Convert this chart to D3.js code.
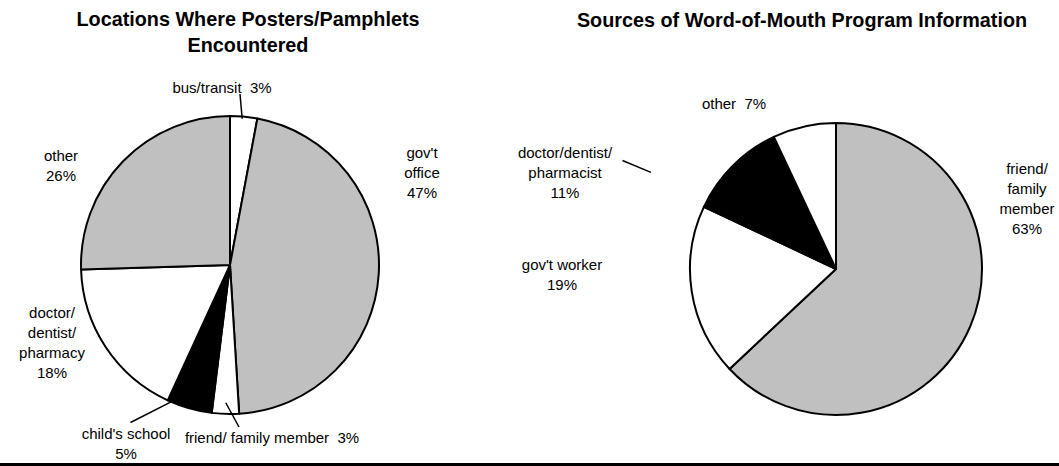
<!DOCTYPE html>
<html>
<head>
<meta charset="utf-8">
<script src="https://cdn.jsdelivr.net/npm/d3@7/dist/d3.min.js"></script>
<style>
  html, body { margin: 0; padding: 0; background: #fff; }
  svg { display: block; }
  text { font-family: "Liberation Sans", Arial, sans-serif; fill: #000; white-space: pre; }
</style>
</head>
<body>
<svg id="chart" width="1059" height="466"></svg>
<script>
// ---- data ----
const leftTitle = ["Locations Where Posters/Pamphlets", "Encountered"];
const leftCategories = ["bus/transit", "gov't office", "friend/ family member", "child's school", "doctor/ dentist/ pharmacy", "other"];
const leftValues = [3, 47, 3, 5, 18, 26];
const leftFills = ["#ffffff", "#c0c0c0", "#ffffff", "#000000", "#ffffff", "#c0c0c0"];

const rightTitle = ["Sources of Word-of-Mouth Program Information"];
const rightCategories = ["friend/ family member", "gov't worker", "doctor/dentist/ pharmacist", "other"];
const rightValues = [63, 19, 11, 7];
const rightFills = ["#c0c0c0", "#ffffff", "#000000", "#ffffff"];

// ---- layout ----
const svg = d3.select("#chart");
const LINE_H = 20;

const pies = [
  {
    title: leftTitle, titleX: 248, titleY: 19,
    categories: leftCategories, values: leftValues, fills: leftFills,
    cx: 230, cy: 265, r: 149,
    // label lines (split per label) and centre positions
    labels: [
      { lines: () => [leftCategories[0] + "  " + leftValues[0] + "%"], x: 222, y: 88 },
      { lines: () => ["gov't", "office", leftValues[1] + "%"], x: 422, y: 153 },
      { lines: () => [leftCategories[2] + "  " + leftValues[2] + "%"], x: 272, y: 438 },
      { lines: () => ["child's school", leftValues[3] + "%"], x: 126, y: 434 },
      { lines: () => ["doctor/", "dentist/", "pharmacy", leftValues[4] + "%"], x: 52, y: 313 },
      { lines: () => ["other", leftValues[5] + "%"], x: 61, y: 156 }
    ],
    // leader lines: slice index, position along slice, radius factor, outer end
    leaders: [
      { i: 0, t: 0.45, k: 0.985, end: [240, 94] },
      { i: 2, t: 0.5, k: 0.925, end: [239, 427] },
      { i: 3, t: 0.92, k: 1.0, end: [130.5, 422.5] }
    ]
  },
  {
    title: rightTitle, titleX: 802, titleY: 20,
    categories: rightCategories, values: rightValues, fills: rightFills,
    cx: 836, cy: 269, r: 146,
    labels: [
      { lines: () => ["friend/", "family", "member", rightValues[0] + "%"], x: 1027, y: 169 },
      { lines: () => ["gov't worker", rightValues[1] + "%"], x: 562, y: 265 },
      { lines: () => ["doctor/dentist/", "pharmacist", rightValues[2] + "%"], x: 565, y: 153 },
      { lines: () => ["other  " + rightValues[3] + "%"], x: 734, y: 104 }
    ],
    leaders: [
      { i: 2, t: 0.06, k: 1.43, end: [622.5, 160.5] }
    ]
  }
];

pies.forEach(p => {
  const data = p.values.map((v, i) => ({ name: p.categories[i], value: v, fill: p.fills[i] }));
  const arcs = d3.pie().sort(null).value(d => d.value)(data);
  const arc = d3.arc().innerRadius(0).outerRadius(p.r);

  // title
  const tt = svg.append("text")
    .attr("x", p.titleX).attr("y", p.titleY)
    .attr("text-anchor", "middle")
    .style("font-size", "19.8px").style("font-weight", "bold");
  p.title.forEach((line, j) => {
    tt.append("tspan").attr("x", p.titleX).attr("dy", j === 0 ? "0.35em" : "26px").text(line);
  });

  const g = svg.append("g").attr("transform", `translate(${p.cx},${p.cy})`);
  g.selectAll("path.slice")
    .data(arcs)
    .join("path")
    .attr("class", "slice")
    .attr("d", arc)
    .attr("fill", d => d.data.fill)
    .attr("stroke", "#000")
    .attr("stroke-width", 2)
    .attr("stroke-linejoin", "round");

  // leader lines
  p.leaders.forEach(L => {
    const a = arcs[L.i];
    const ang = a.startAngle + (a.endAngle - a.startAngle) * L.t;
    const x0 = p.cx + Math.sin(ang) * p.r * L.k;
    const y0 = p.cy - Math.cos(ang) * p.r * L.k;
    svg.append("line")
      .attr("x1", x0).attr("y1", y0)
      .attr("x2", L.end[0]).attr("y2", L.end[1])
      .attr("stroke", "#000").attr("stroke-width", 1.5);
  });

  // labels
  p.labels.forEach(lab => {
    const t = svg.append("text")
      .attr("text-anchor", "middle")
      .style("font-size", "15px");
    lab.lines().forEach((line, j) => {
      t.append("tspan")
        .attr("x", lab.x)
        .attr("y", lab.y + j * LINE_H)
        .attr("dy", "0.35em")
        .text(line);
    });
  });
});

// bottom rule
svg.append("rect")
  .attr("x", 0).attr("y", 463)
  .attr("width", 1059).attr("height", 3)
  .attr("fill", "#000");
</script>
</body>
</html>
